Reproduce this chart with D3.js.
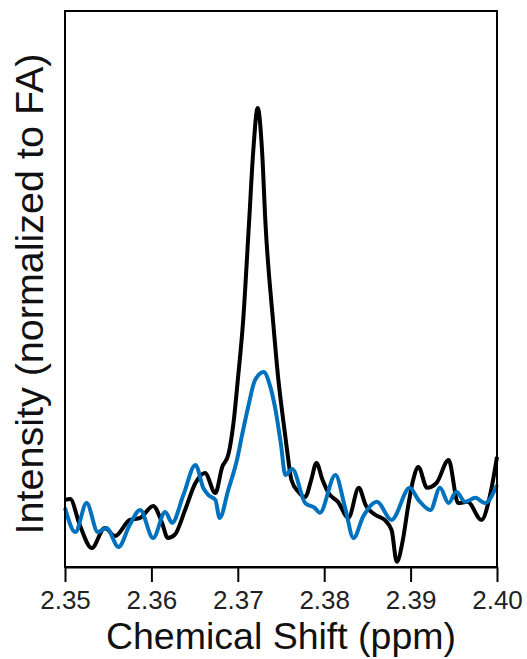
<!DOCTYPE html>
<html>
<head>
<meta charset="utf-8">
<script src="https://cdn.jsdelivr.net/npm/d3@7"></script>
<style>
  body { margin: 0; background: #fff; }
  svg { display: block; font-family: "Liberation Sans", Arial, sans-serif; }
</style>
</head>
<body>
<div id="chart"></div>
<script>
// black trace (control)
const blackShift = [2.3500, 2.3506, 2.3517, 2.3531, 2.3546, 2.3558, 2.3575, 2.3587, 2.3602, 2.3612,
    2.3619, 2.3627, 2.3639, 2.3651, 2.3662, 2.3674, 2.3682, 2.3689, 2.3695, 2.3700,
    2.3706, 2.3713, 2.3718, 2.3723, 2.3728, 2.3732, 2.3741, 2.3747, 2.3753, 2.3757,
    2.3762, 2.3770, 2.3778, 2.3785, 2.3791, 2.3798, 2.3805, 2.3816, 2.3828, 2.3840,
    2.3848, 2.3859, 2.3870, 2.3878, 2.3884, 2.3891, 2.3897, 2.3903, 2.3909, 2.3919,
    2.3930, 2.3944, 2.3955, 2.3966, 2.3982, 2.3992, 2.4000];
const blackIntensity = [0.025, 0.027, -0.037, -0.095, -0.045, -0.065, -0.025, -0.020, 0.010, -0.030,
    -0.070, -0.062, 0.000, 0.067, 0.092, 0.042, 0.107, 0.137, 0.216, 0.323,
    0.465, 0.714, 0.896, 1.000, 0.896, 0.714, 0.465, 0.323, 0.216, 0.149,
    0.075, 0.045, 0.032, 0.075, 0.117, 0.075, 0.042, 0.020, -0.020, 0.055,
    0.012, -0.012, -0.025, -0.050, -0.129, -0.075, 0.007, 0.075, 0.107, 0.055,
    0.067, 0.124, 0.017, 0.020, -0.025, 0.037, 0.132];

// blue trace
const blueShift = [2.3500, 2.3512, 2.3525, 2.3538, 2.3548, 2.3562, 2.3575, 2.3587, 2.3602, 2.3616,
    2.3624, 2.3637, 2.3651, 2.3660, 2.3666, 2.3674, 2.3679, 2.3689, 2.3699, 2.3705,
    2.3712, 2.3720, 2.3730, 2.3737, 2.3743, 2.3750, 2.3755, 2.3763, 2.3778, 2.3789,
    2.3795, 2.3813, 2.3824, 2.3834, 2.3845, 2.3861, 2.3878, 2.3899, 2.3909, 2.3923,
    2.3934, 2.3944, 2.3953, 2.3963, 2.3975, 2.3986, 2.4000];
const blueIntensity = [0.005, -0.055, 0.017, -0.055, -0.045, -0.092, -0.037, 0.000, -0.070, -0.005,
    -0.032, 0.037, 0.112, 0.055, 0.037, 0.025, -0.020, 0.050, 0.124, 0.187,
    0.256, 0.323, 0.343, 0.311, 0.256, 0.162, 0.087, 0.102, 0.017, 0.005,
    -0.007, 0.087, 0.007, -0.070, -0.017, 0.020, -0.025, 0.055, 0.025, 0.000,
    0.055, 0.017, 0.045, 0.020, 0.030, 0.017, 0.062];

const xTicks = [2.35, 2.36, 2.37, 2.38, 2.39, 2.40];

const width = 527, height = 659;
const margin = { top: 11, right: 30, bottom: 92, left: 65 };

const svg = d3.select("#chart").append("svg")
    .attr("width", width)
    .attr("height", height);

const x = d3.scaleLinear()
    .domain([2.35, 2.40])
    .range([margin.left, width - margin.right]);

const y = d3.scaleLinear()
    .domain([-0.142, 1.241])
    .range([height - margin.bottom, margin.top]);

const line = d3.line()
    .x(d => x(d[0]))
    .y(d => y(d[1]))
    .curve(d3.curveMonotoneX);

const plot = svg.append("g");

plot.append("path")
    .datum(blackShift.map((s, i) => [s, blackIntensity[i]]))
    .attr("d", line)
    .attr("fill", "none")
    .attr("stroke", "#000")
    .attr("stroke-width", 4)
    .attr("stroke-linejoin", "round");

plot.append("path")
    .datum(blueShift.map((s, i) => [s, blueIntensity[i]]))
    .attr("d", line)
    .attr("fill", "none")
    .attr("stroke", "#0072BD")
    .attr("stroke-width", 4)
    .attr("stroke-linejoin", "round");

// frame
svg.append("rect")
    .attr("x", margin.left)
    .attr("y", margin.top)
    .attr("width", width - margin.left - margin.right)
    .attr("height", height - margin.top - margin.bottom)
    .attr("fill", "none")
    .attr("stroke", "#000")
    .attr("stroke-width", 2);

const xAxis = svg.append("g")
    .attr("transform", `translate(0,${height - margin.bottom})`)
    .call(d3.axisBottom(x).tickValues(xTicks).tickFormat(d3.format(".2f")).tickSize(15).tickSizeOuter(0));

xAxis.select(".domain").attr("stroke-width", 2);
xAxis.selectAll(".tick line").attr("stroke-width", 2);
xAxis.selectAll(".tick text")
    .attr("font-size", 26)
    .attr("font-family", "Liberation Sans, Arial, sans-serif")
    .attr("fill", "#222")
    .attr("y", 42)
    .attr("dy", null);

svg.append("text")
    .attr("x", (margin.left + width - margin.right) / 2)
    .attr("y", 649)
    .attr("text-anchor", "middle")
    .attr("font-size", 37.5)
    .attr("fill", "#111")
    .text("Chemical Shift (ppm)");

svg.append("text")
    .attr("transform", "translate(43,294) rotate(-90)")
    .attr("text-anchor", "middle")
    .attr("font-size", 39.5)
    .attr("fill", "#111")
    .text("Intensity (normalized to FA)");
</script>
</body>
</html>
